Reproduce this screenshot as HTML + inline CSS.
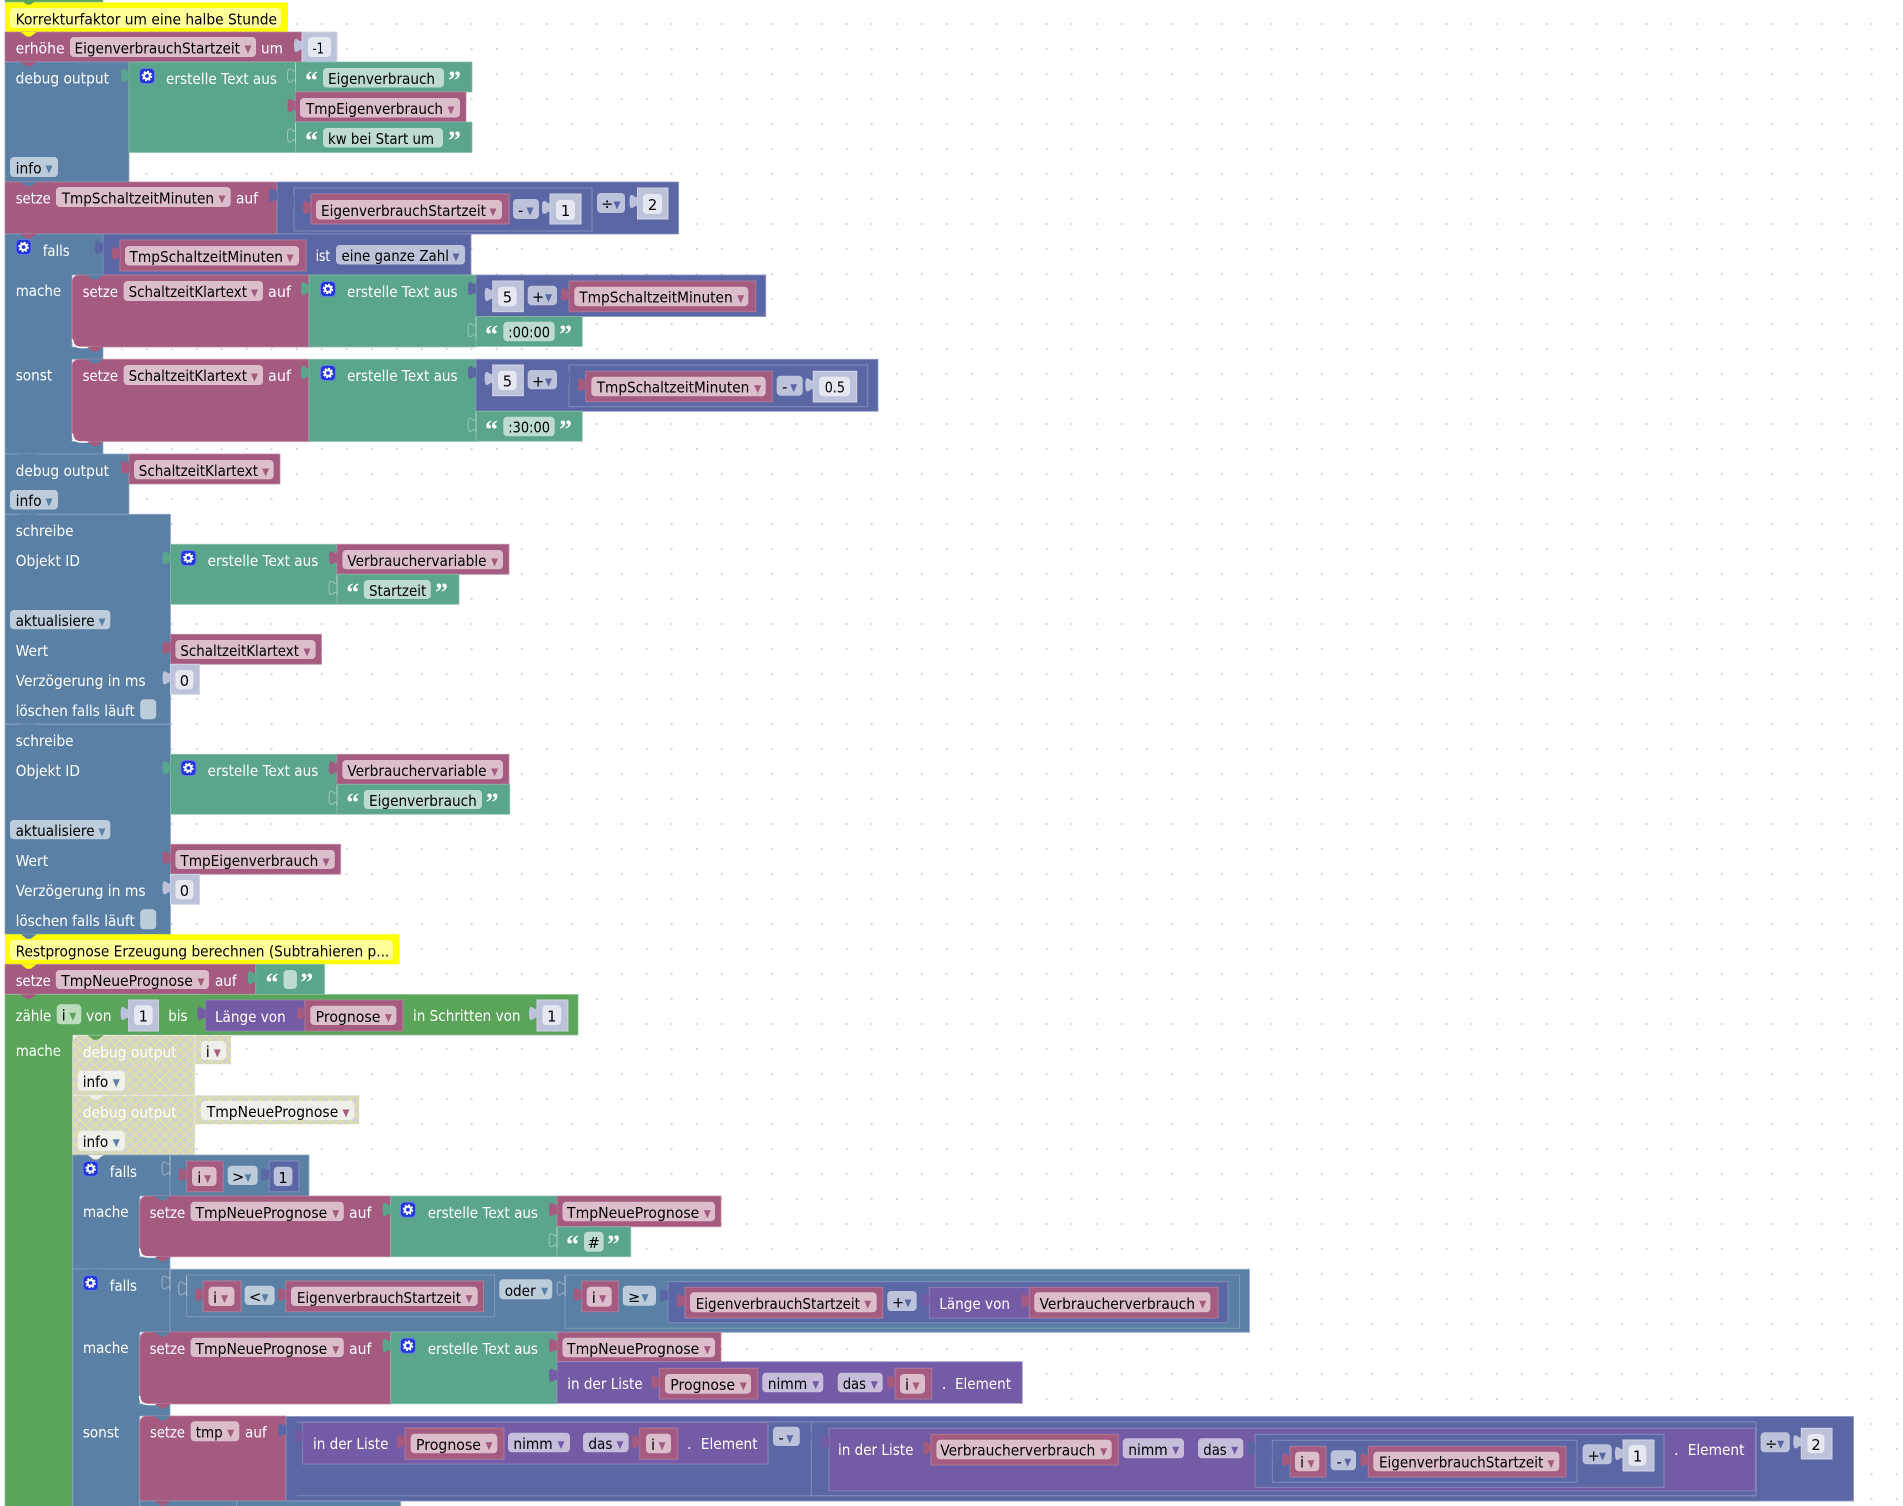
<!DOCTYPE html>
<html lang="de"><head><meta charset="utf-8"><title>Blockly</title>
<style>
html,body{margin:0;padding:0;background:#fff}
svg{display:block}
text{font-family:"DejaVu Sans","Liberation Sans",sans-serif;font-size:14.67px}
.w{fill:#fff}.k{fill:#000}.c{text-anchor:middle}
.q{font-family:"Liberation Serif",serif;font-weight:bold;font-size:26px;fill:#fff}
.r{fill:#a55b80}.b{fill:#5b80a5}.g{fill:#5ba58c}.m{fill:#5b67a5}.l{fill:#745ba5}.f{fill:#5ba55b}
rect.r,path.r{stroke:#bd84a0;stroke-opacity:.7}
rect.b,path.b{stroke:#8ca6c0;stroke-opacity:.7}
rect.g,path.g{stroke:#8cc0ae;stroke-opacity:.7}
rect.m,path.m{stroke:#8c95c0;stroke-opacity:.8}
rect.l,path.l{stroke:#9c8cc0;stroke-opacity:.7}
rect.f,path.f{stroke:#8cc08c;stroke-opacity:.7}
.R{fill:#dbbdcc}.B{fill:#bdccdb}.G{fill:#bddbd1}.M{fill:#bdc2db}.L{fill:#c7bddb}.F{fill:#bddbbd}
.N{fill:#e5e7f1}.Y{fill:#ff0}.Z{fill:#ff9}.D{fill:#f0f0ea}
rect.M2{fill:#bdc2db;stroke:#d0d4e6}
.M2{fill:#bdc2db}
.X{fill:url(#dis)}
.s{stroke:#fff;stroke-opacity:.4;stroke-width:1}
</style></head><body>
<svg xmlns="http://www.w3.org/2000/svg" width="1903" height="1506" viewBox="0 0 1903 1506">
<defs>
<pattern id="dots" patternUnits="userSpaceOnUse" width="25" height="25"><circle cx="21.7" cy="24" r="1" fill="#ccc"/></pattern>
<pattern id="dis" patternUnits="userSpaceOnUse" width="10" height="10"><rect width="10" height="10" fill="#d2d2ce"/><path d="M0 0L10 10M10 0L0 10" stroke="#e8e88c" stroke-width="1"/></pattern>
<path id="t" d="M0 0v5c0 10-8-8-8 7.5s8-2.5 8 7.5z"/>
<path id="n" d="M-8 0l6 4.5h4l6-4.5z"/>
<path id="a" d="M-3.5 8.5h7l-3.5 8z"/>
<g id="i"><rect x=".5" y=".5" width="15" height="15" rx="4" fill="#2036d9" stroke="#6a7ae4"/><circle cx="8" cy="8" r="3" fill="none" stroke="#fff" stroke-width="2.2"/><circle cx="8" cy="8" r="4.6" fill="none" stroke="#fff" stroke-width="1.4" stroke-dasharray="2 1.6"/></g>
</defs>
<rect width="1903" height="1506" fill="url(#dots)"/>

<!-- top -->
<rect class="f" x="5" y="-10" width="98" height="12"/>
<rect class="Y" x="5" y="2.5" width="283" height="29.5"/>
<rect class="Z" x="10" y="8" width="271" height="20" rx="4"/>
<text class="k" x="15.6" y="24.5" textLength="261.4" lengthAdjust="spacingAndGlyphs">Korrekturfaktor um eine halbe Stunde</text>

<rect class="r" x="5" y="32" width="297" height="30"/>
<text class="w" x="15.6" y="53.5" textLength="49" lengthAdjust="spacingAndGlyphs">erhöhe</text>
<rect class="R" x="70" y="37" width="186" height="20" rx="4"/>
<text class="k" x="74.5" y="53.5" textLength="165.5" lengthAdjust="spacingAndGlyphs">EigenverbrauchStartzeit</text>
<use href="#a" x="248" y="37" class="r"/>
<text class="w" x="261" y="53.5" textLength="22" lengthAdjust="spacingAndGlyphs">um</text>
<rect class="M2" x="302" y="32" width="35" height="30"/><use href="#t" x="302" y="33" class="M2"/>
<rect class="N" x="308" y="37" width="23" height="20" rx="4"/>
<text class="k" x="312.5" y="53.5" textLength="11.5" lengthAdjust="spacingAndGlyphs">-1</text>

<!-- debug output -->
<rect class="b" x="5" y="62" width="124" height="120"/>
<text class="w" x="15.6" y="83.5" textLength="93.4" lengthAdjust="spacingAndGlyphs">debug output</text>
<rect class="g" x="129" y="62" width="166.5" height="90.5"/><use href="#t" x="129" y="63" class="g"/>
<use href="#i" x="139" y="68"/>
<text class="w" x="166" y="84" textLength="111" lengthAdjust="spacingAndGlyphs">erstelle Text aus</text>
<rect class="g" x="295.5" y="62" width="176.5" height="30"/><use href="#t" x="295.5" y="63" class="g s"/>
<text class="q" x="305" y="89">“</text>
<rect class="G" x="323" y="68" width="121" height="19.5" rx="4"/>
<text class="k" x="328" y="84" textLength="107" lengthAdjust="spacingAndGlyphs">Eigenverbrauch</text>
<text class="q" x="448" y="89">”</text>
<rect class="r" x="295.5" y="92" width="170.5" height="30"/><use href="#t" x="295.5" y="93" class="r"/>
<rect class="R" x="300" y="98" width="160" height="19.5" rx="4"/>
<text class="k" x="306" y="114" textLength="137" lengthAdjust="spacingAndGlyphs">TmpEigenverbrauch</text>
<use href="#a" x="451" y="98" class="r"/>
<rect class="g" x="295.5" y="122" width="176.5" height="30.5"/><use href="#t" x="295.5" y="123" class="g s"/>
<text class="q" x="305" y="149">“</text>
<rect class="G" x="323" y="128" width="120" height="19.5" rx="4"/>
<text class="k" x="328" y="144" textLength="106" lengthAdjust="spacingAndGlyphs">kw bei Start um</text>
<text class="q" x="448" y="149">”</text>
<rect class="B" x="10" y="157" width="48" height="20" rx="4"/>
<text class="k" x="15.6" y="173.5" textLength="26" lengthAdjust="spacingAndGlyphs">info</text>
<use href="#a" x="49" y="157" class="b"/>

<!-- setze TmpSchaltzeitMinuten -->
<rect class="r" x="5" y="182" width="272" height="52"/>
<text class="w" x="15.7" y="203.5" textLength="35" lengthAdjust="spacingAndGlyphs">setze</text>
<rect class="R" x="56" y="187" width="174.7" height="20" rx="4"/>
<text class="k" x="61.7" y="203.5" textLength="152.3" lengthAdjust="spacingAndGlyphs">TmpSchaltzeitMinuten</text>
<use href="#a" x="222" y="187" class="r"/>
<text class="w" x="236" y="203.5" textLength="22" lengthAdjust="spacingAndGlyphs">auf</text>
<rect class="m" x="277" y="182" width="401.6" height="52"/><use href="#t" x="277" y="183" class="m"/>
<rect class="m" x="294" y="188" width="298" height="43"/><use href="#t" x="294" y="189" class="m"/>
<rect class="r" x="311" y="194" width="198" height="30"/><use href="#t" x="311" y="195" class="r"/>
<rect class="R" x="316" y="200" width="186" height="19.5" rx="4"/>
<text class="k" x="321" y="216" textLength="165" lengthAdjust="spacingAndGlyphs">EigenverbrauchStartzeit</text>
<use href="#a" x="493" y="200" class="r"/>
<rect class="M" x="513" y="199" width="26" height="20" rx="4"/>
<text class="k" x="518" y="215.5">-</text>
<use href="#a" x="530" y="199" class="m"/>
<rect class="M2" x="550" y="194" width="31" height="30"/><use href="#t" x="550" y="195" class="M2"/>
<rect class="N" x="556" y="200" width="19" height="20" rx="4"/>
<text class="k c" x="565.5" y="216">1</text>
<rect class="M" x="597" y="193" width="28" height="20" rx="4"/>
<text class="k" x="601" y="209">÷</text>
<use href="#a" x="617" y="193" class="m"/>
<rect class="M2" x="637.5" y="188" width="30.5" height="31"/><use href="#t" x="637.5" y="189" class="M2"/>
<rect class="N" x="643" y="194" width="19" height="20" rx="4"/>
<text class="k c" x="652.5" y="210">2</text>

<!-- falls 1 -->
<path class="b" d="M5 234H103V275H72V347H103V359.3H72V441.5H103V454H5Z"/>
<use href="#i" x="15.6" y="239"/>
<text class="w" x="42.7" y="256" textLength="27" lengthAdjust="spacingAndGlyphs">falls</text>
<text class="w" x="15.7" y="296" textLength="45.5" lengthAdjust="spacingAndGlyphs">mache</text>
<text class="w" x="15.7" y="380.5" textLength="36.5" lengthAdjust="spacingAndGlyphs">sonst</text>
<rect class="m" x="103" y="234" width="368" height="41"/><use href="#t" x="103" y="235" class="m"/>
<rect class="r" x="120" y="240" width="186" height="31"/><use href="#t" x="120" y="241" class="r"/>
<rect class="R" x="125" y="246" width="174" height="19.5" rx="4"/>
<text class="k" x="129.5" y="262" textLength="153.5" lengthAdjust="spacingAndGlyphs">TmpSchaltzeitMinuten</text>
<use href="#a" x="290" y="246" class="r"/>
<text class="w" x="315.6" y="261" textLength="14.5" lengthAdjust="spacingAndGlyphs">ist</text>
<rect class="M" x="336" y="245" width="129" height="19.5" rx="4"/>
<text class="k" x="341.5" y="261" textLength="107.5" lengthAdjust="spacingAndGlyphs">eine ganze Zahl</text>
<use href="#a" x="456" y="245" class="m"/>

<!-- mache -->
<path class="r" d="M80 275H309V347H80q-8 0-8-8V283q0-8 8-8z"/>
<text class="w" x="82.6" y="297" textLength="35.4" lengthAdjust="spacingAndGlyphs">setze</text>
<rect class="R" x="123.6" y="281" width="139.4" height="20" rx="4"/>
<text class="k" x="128.6" y="297" textLength="118.4" lengthAdjust="spacingAndGlyphs">SchaltzeitKlartext</text>
<use href="#a" x="254.5" y="281" class="r"/>
<text class="w" x="268" y="297" textLength="23" lengthAdjust="spacingAndGlyphs">auf</text>
<rect class="g" x="309" y="275" width="167" height="72"/><use href="#t" x="309" y="276" class="g"/>
<use href="#i" x="320" y="281"/>
<text class="w" x="347" y="297" textLength="110.6" lengthAdjust="spacingAndGlyphs">erstelle Text aus</text>
<rect class="m" x="476" y="275" width="289.7" height="41.5"/><use href="#t" x="476" y="276" class="m"/>
<rect class="M2" x="492.7" y="281" width="30.6" height="30.7"/><use href="#t" x="492.7" y="282" class="M2"/>
<rect class="N" x="498" y="286.7" width="18.7" height="19.5" rx="4"/>
<text class="k c" x="507.4" y="302.7">5</text>
<rect class="M" x="527.7" y="285.7" width="29.3" height="19.5" rx="4"/>
<text class="k" x="532" y="302">+</text>
<use href="#a" x="548.5" y="285.7" class="m"/>
<rect class="r" x="569" y="281" width="186.7" height="30.7"/><use href="#t" x="569" y="282" class="r"/>
<rect class="R" x="574.3" y="286.7" width="174" height="19.5" rx="4"/>
<text class="k" x="579.3" y="302.7" textLength="153.4" lengthAdjust="spacingAndGlyphs">TmpSchaltzeitMinuten</text>
<use href="#a" x="740.7" y="286.7" class="r"/>
<rect class="g" x="476" y="316.5" width="106.3" height="30"/><use href="#t" x="476" y="317.5" class="g s"/>
<text class="q" x="485" y="343">“</text>
<rect class="G" x="503.3" y="321.7" width="51.4" height="19.6" rx="4"/>
<text class="k" x="508.3" y="337.7" textLength="41.7" lengthAdjust="spacingAndGlyphs">:00:00</text>
<text class="q" x="559" y="343">”</text>

<!-- sonst -->
<path class="r" d="M80 359.3H309V441.5H80q-8 0-8-8V367.3q0-8 8-8z"/>
<text class="w" x="82.6" y="381" textLength="35.4" lengthAdjust="spacingAndGlyphs">setze</text>
<rect class="R" x="123.6" y="365" width="139.4" height="20" rx="4"/>
<text class="k" x="128.6" y="381" textLength="118.4" lengthAdjust="spacingAndGlyphs">SchaltzeitKlartext</text>
<use href="#a" x="254.5" y="365" class="r"/>
<text class="w" x="268" y="381" textLength="23" lengthAdjust="spacingAndGlyphs">auf</text>
<rect class="g" x="309" y="359.3" width="167" height="82.2"/><use href="#t" x="309" y="360" class="g"/>
<use href="#i" x="320" y="365"/>
<text class="w" x="347" y="381" textLength="110.6" lengthAdjust="spacingAndGlyphs">erstelle Text aus</text>
<rect class="m" x="476" y="359.3" width="402" height="52"/><use href="#t" x="476" y="360" class="m"/>
<rect class="M2" x="492.7" y="365" width="30.6" height="30.7"/><use href="#t" x="492.7" y="366" class="M2"/>
<rect class="N" x="498" y="370.7" width="18.7" height="19.3" rx="4"/>
<text class="k c" x="507.4" y="386.7">5</text>
<rect class="M" x="527.7" y="370" width="29.3" height="19.3" rx="4"/>
<text class="k" x="532" y="386.5">+</text>
<use href="#a" x="548.5" y="370" class="m"/>
<rect class="m" x="569" y="365" width="298.7" height="41.7"/><use href="#t" x="569" y="366" class="m"/>
<rect class="r" x="585.7" y="371.3" width="186.6" height="30.4"/><use href="#t" x="585.7" y="372.3" class="r"/>
<rect class="R" x="591.3" y="376.7" width="174.4" height="19.6" rx="4"/>
<text class="k" x="596.7" y="392.7" textLength="152.6" lengthAdjust="spacingAndGlyphs">TmpSchaltzeitMinuten</text>
<use href="#a" x="757.7" y="376.7" class="r"/>
<rect class="M" x="776.7" y="375.7" width="26" height="20" rx="4"/>
<text class="k" x="782" y="392">-</text>
<use href="#a" x="793.7" y="375.7" class="m"/>
<rect class="M2" x="813.3" y="371.3" width="43.4" height="30.7"/><use href="#t" x="813.3" y="372.3" class="M2"/>
<rect class="N" x="819" y="376.7" width="31" height="19.6" rx="4"/>
<text class="k" x="824.7" y="392.7" textLength="20.3" lengthAdjust="spacingAndGlyphs">0.5</text>
<rect class="g" x="476" y="411.3" width="106.3" height="30"/><use href="#t" x="476" y="412.3" class="g s"/>
<text class="q" x="485" y="438">“</text>
<rect class="G" x="503.3" y="416.7" width="51.4" height="19.6" rx="4"/>
<text class="k" x="508.3" y="432.7" textLength="41.7" lengthAdjust="spacingAndGlyphs">:30:00</text>
<text class="q" x="559" y="438">”</text>

<!-- debug output 2 -->
<rect class="b" x="5" y="454" width="124" height="60.3"/>
<text class="w" x="15.6" y="476" textLength="93.4" lengthAdjust="spacingAndGlyphs">debug output</text>
<rect class="r" x="129" y="454" width="151" height="30"/><use href="#t" x="129" y="455" class="r"/>
<rect class="R" x="134" y="460" width="139.7" height="19.3" rx="4"/>
<text class="k" x="138.8" y="476" textLength="119.2" lengthAdjust="spacingAndGlyphs">SchaltzeitKlartext</text>
<use href="#a" x="265.6" y="460" class="r"/>
<rect class="B" x="10" y="490" width="48" height="19.5" rx="4"/>
<text class="k" x="15.6" y="506" textLength="26" lengthAdjust="spacingAndGlyphs">info</text>
<use href="#a" x="49" y="490" class="b"/>

<!-- schreibe 1 -->
<rect class="b" x="5" y="514.3" width="165.5" height="209.7"/>
<text class="w" x="15.6" y="536" textLength="58" lengthAdjust="spacingAndGlyphs">schreibe</text>
<text class="w" x="15.6" y="566" textLength="64.4" lengthAdjust="spacingAndGlyphs">Objekt ID</text>
<rect class="g" x="170.5" y="544.3" width="166.5" height="60"/><use href="#t" x="170.5" y="545.3" class="g"/>
<use href="#i" x="180.4" y="550"/>
<text class="w" x="207.6" y="566" textLength="110.7" lengthAdjust="spacingAndGlyphs">erstelle Text aus</text>
<rect class="r" x="337" y="544.3" width="172" height="30"/><use href="#t" x="337" y="545.3" class="r"/>
<rect class="R" x="342.4" y="550" width="160.6" height="19.3" rx="4"/>
<text class="k" x="347.3" y="566" textLength="139.3" lengthAdjust="spacingAndGlyphs">Verbrauchervariable</text>
<use href="#a" x="494.6" y="550" class="r"/>
<rect class="g" x="337" y="574.3" width="122" height="30"/><use href="#t" x="337" y="575.3" class="g s"/>
<text class="q" x="346.3" y="601">“</text>
<rect class="G" x="363.8" y="580" width="67" height="19" rx="4"/>
<text class="k" x="369" y="596" textLength="57.3" lengthAdjust="spacingAndGlyphs">Startzeit</text>
<text class="q" x="435" y="601">”</text>
<rect class="B" x="10" y="610" width="100.3" height="19.3" rx="4"/>
<text class="k" x="15.6" y="626" textLength="79" lengthAdjust="spacingAndGlyphs">aktualisiere</text>
<use href="#a" x="102" y="610" class="b"/>
<text class="w" x="15.6" y="656" textLength="32.6" lengthAdjust="spacingAndGlyphs">Wert</text>
<rect class="r" x="170.5" y="634.3" width="151" height="30"/><use href="#t" x="170.5" y="635.3" class="r"/>
<rect class="R" x="175.4" y="640" width="140.2" height="19" rx="4"/>
<text class="k" x="180.4" y="656" textLength="118.6" lengthAdjust="spacingAndGlyphs">SchaltzeitKlartext</text>
<use href="#a" x="307" y="640" class="r"/>
<text class="w" x="15.6" y="686" textLength="130" lengthAdjust="spacingAndGlyphs">Verzögerung in ms</text>
<rect class="M2" x="170.5" y="664.3" width="29" height="30"/><use href="#t" x="170.5" y="665.3" class="M2"/>
<rect class="N" x="175.4" y="670" width="18" height="19.3" rx="4"/>
<text class="k c" x="184.4" y="686">0</text>
<text class="w" x="15.6" y="716" textLength="119.2" lengthAdjust="spacingAndGlyphs">löschen falls läuft</text>
<rect class="B" x="140.2" y="699.3" width="16" height="20" rx="4"/>

<!-- schreibe 2 -->
<rect class="b" x="5" y="724.3" width="165.5" height="210"/>
<text class="w" x="15.6" y="746" textLength="58" lengthAdjust="spacingAndGlyphs">schreibe</text>
<text class="w" x="15.6" y="776" textLength="64.4" lengthAdjust="spacingAndGlyphs">Objekt ID</text>
<rect class="g" x="170.5" y="754.3" width="166.5" height="60"/><use href="#t" x="170.5" y="755.3" class="g"/>
<use href="#i" x="180.4" y="760"/>
<text class="w" x="207.6" y="776" textLength="110.7" lengthAdjust="spacingAndGlyphs">erstelle Text aus</text>
<rect class="r" x="337" y="754.3" width="172" height="30"/><use href="#t" x="337" y="755.3" class="r"/>
<rect class="R" x="342.4" y="760" width="160.6" height="19.3" rx="4"/>
<text class="k" x="347.3" y="776" textLength="139.3" lengthAdjust="spacingAndGlyphs">Verbrauchervariable</text>
<use href="#a" x="494.6" y="760" class="r"/>
<rect class="g" x="337" y="784.3" width="172.8" height="30"/><use href="#t" x="337" y="785.3" class="g s"/>
<text class="q" x="346.3" y="811">“</text>
<rect class="G" x="363.8" y="790" width="118.2" height="19" rx="4"/>
<text class="k" x="369" y="806" textLength="107.8" lengthAdjust="spacingAndGlyphs">Eigenverbrauch</text>
<text class="q" x="485.6" y="811">”</text>
<rect class="B" x="10" y="820" width="100.3" height="19.3" rx="4"/>
<text class="k" x="15.6" y="836" textLength="79" lengthAdjust="spacingAndGlyphs">aktualisiere</text>
<use href="#a" x="102" y="820" class="b"/>
<text class="w" x="15.6" y="866" textLength="32.6" lengthAdjust="spacingAndGlyphs">Wert</text>
<rect class="r" x="170.5" y="844.3" width="170.1" height="30"/><use href="#t" x="170.5" y="845.3" class="r"/>
<rect class="R" x="175.4" y="850" width="159.4" height="19" rx="4"/>
<text class="k" x="180.4" y="866" textLength="137.9" lengthAdjust="spacingAndGlyphs">TmpEigenverbrauch</text>
<use href="#a" x="326" y="850" class="r"/>
<text class="w" x="15.6" y="896" textLength="130" lengthAdjust="spacingAndGlyphs">Verzögerung in ms</text>
<rect class="M2" x="170.5" y="874.3" width="29" height="30"/><use href="#t" x="170.5" y="875.3" class="M2"/>
<rect class="N" x="175.4" y="880" width="18" height="19.3" rx="4"/>
<text class="k c" x="184.4" y="896">0</text>
<text class="w" x="15.6" y="926" textLength="119.2" lengthAdjust="spacingAndGlyphs">löschen falls läuft</text>
<rect class="B" x="140.2" y="909.3" width="16" height="20" rx="4"/>

<!-- comment 2 -->
<rect class="Y" x="5" y="934.3" width="394.6" height="30"/>
<rect class="Z" x="10" y="940" width="382.9" height="20" rx="4"/>
<text class="k" x="15.6" y="956.3" textLength="373.7" lengthAdjust="spacingAndGlyphs">Restprognose Erzeugung berechnen (Subtrahieren p...</text>

<!-- setze TmpNeuePrognose -->
<rect class="r" x="5" y="964.3" width="250.8" height="30"/>
<text class="w" x="15.7" y="986" textLength="35" lengthAdjust="spacingAndGlyphs">setze</text>
<rect class="R" x="55.8" y="970" width="153.2" height="19" rx="4"/>
<text class="k" x="61.2" y="986" textLength="131.7" lengthAdjust="spacingAndGlyphs">TmpNeuePrognose</text>
<use href="#a" x="201" y="970" class="r"/>
<text class="w" x="215" y="986" textLength="21.6" lengthAdjust="spacingAndGlyphs">auf</text>
<rect class="g" x="255.8" y="964.3" width="68.8" height="30"/><use href="#t" x="255.8" y="965.3" class="g"/>
<text class="q" x="265.5" y="991">“</text>
<rect class="G" x="283.5" y="970" width="13.4" height="19" rx="4"/>
<text class="q" x="300.3" y="991">”</text>

<!-- zähle -->
<path class="f" d="M5 994.5H578V1035H72.7V1516H5Z"/>
<text class="w" x="15.6" y="1021" textLength="35.7" lengthAdjust="spacingAndGlyphs">zähle</text>
<rect class="F" x="56.7" y="1004.3" width="24.6" height="20" rx="4"/>
<text class="k" x="61.6" y="1020.5">i</text>
<use href="#a" x="72.8" y="1004.3" class="f"/>
<text class="w" x="86" y="1021" textLength="25.6" lengthAdjust="spacingAndGlyphs">von</text>
<rect class="M2" x="128.6" y="1000" width="29.9" height="31"/><use href="#t" x="128.6" y="1001" class="M2"/>
<rect class="N" x="134" y="1005.3" width="18.7" height="19.7" rx="4"/>
<text class="k c" x="143.3" y="1021.5">1</text>
<text class="w" x="168.3" y="1021" textLength="19.2" lengthAdjust="spacingAndGlyphs">bis</text>
<rect class="l" x="205.4" y="1000" width="99.6" height="31"/><use href="#t" x="205.4" y="1001" class="l"/>
<text class="w" x="215" y="1022" textLength="70.7" lengthAdjust="spacingAndGlyphs">Länge von</text>
<rect class="r" x="305" y="1000" width="98" height="31"/><use href="#t" x="305" y="1001" class="r"/>
<rect class="R" x="310.3" y="1005.7" width="86.1" height="19.3" rx="4"/>
<text class="k" x="315.6" y="1022" textLength="64.8" lengthAdjust="spacingAndGlyphs">Prognose</text>
<use href="#a" x="388.4" y="1005.7" class="r"/>
<text class="w" x="413" y="1021" textLength="107.5" lengthAdjust="spacingAndGlyphs">in Schritten von</text>
<rect class="M2" x="537" y="1000" width="30.9" height="31"/><use href="#t" x="537" y="1001" class="M2"/>
<rect class="N" x="542.4" y="1005.3" width="18.8" height="19.7" rx="4"/>
<text class="k c" x="551.8" y="1021.5">1</text>
<text class="w" x="15.7" y="1056" textLength="45.3" lengthAdjust="spacingAndGlyphs">mache</text>

<!-- disabled -->
<path class="X" d="M80 1035.3H195V1095.3H72.7V1043.3q0-8 7.3-8z" stroke="#eee" stroke-width=".7"/>
<rect class="X" x="195" y="1035.3" width="36" height="29" stroke="#eee" stroke-width=".5"/>
<text class="w" x="82.7" y="1057.3" textLength="94" lengthAdjust="spacingAndGlyphs">debug output</text>
<rect class="D" x="201" y="1041" width="25" height="19" rx="4"/>
<text class="k" x="205.7" y="1057">i</text>
<use href="#a" x="217.3" y="1041" class="r"/>
<rect class="D" x="77.7" y="1070.7" width="47.3" height="20" rx="4"/>
<text class="k" x="82.7" y="1087" textLength="25.6" lengthAdjust="spacingAndGlyphs">info</text>
<use href="#a" x="116.3" y="1070.7" class="b"/>
<rect class="X" x="72.7" y="1095.3" width="122.3" height="59.7" stroke="#eee" stroke-width=".7"/>
<rect class="X" x="195" y="1095.3" width="164.3" height="29" stroke="#eee" stroke-width=".5"/>
<text class="w" x="82.7" y="1117.3" textLength="94" lengthAdjust="spacingAndGlyphs">debug output</text>
<rect class="D" x="201" y="1101" width="153.3" height="19" rx="4"/>
<text class="k" x="206.7" y="1117" textLength="131.6" lengthAdjust="spacingAndGlyphs">TmpNeuePrognose</text>
<use href="#a" x="346" y="1101" class="r"/>
<rect class="D" x="77.7" y="1130.7" width="47.3" height="20" rx="4"/>
<text class="k" x="82.7" y="1147" textLength="25.6" lengthAdjust="spacingAndGlyphs">info</text>
<use href="#a" x="116.3" y="1130.7" class="b"/>

<!-- falls i>1 -->
<path class="b" d="M72.7 1155H170V1196H139.7V1256.7H170V1269H72.7Z"/>
<use href="#i" x="82.6" y="1160.7"/>
<text class="w" x="109.8" y="1177" textLength="27.2" lengthAdjust="spacingAndGlyphs">falls</text>
<text class="w" x="83" y="1217" textLength="45.6" lengthAdjust="spacingAndGlyphs">mache</text>
<rect class="b" x="170" y="1155" width="139" height="41"/><use href="#t" x="170" y="1156" class="b s"/>
<rect class="r" x="186.6" y="1161" width="36.6" height="30.7"/><use href="#t" x="186.6" y="1162" class="r"/>
<rect class="R" x="192" y="1166.7" width="24.5" height="19.3" rx="4"/>
<text class="k" x="197.3" y="1183">i</text>
<use href="#a" x="207.6" y="1166.7" class="r"/>
<rect class="B" x="227.7" y="1165.7" width="29.9" height="19.3" rx="4"/>
<text class="k" x="232" y="1182">&gt;</text>
<use href="#a" x="248" y="1165.7" class="b"/>
<rect class="m" x="269.2" y="1161" width="29.8" height="30.7"/><use href="#t" x="269.2" y="1162" class="m"/>
<rect class="M" x="273.7" y="1166.7" width="18.7" height="19.3" rx="4"/>
<text class="k c" x="283" y="1183">1</text>

<path class="r" d="M147.7 1196H390.6V1256.7H147.7q-8 0-8-8V1204q0-8 8-8z"/>
<text class="w" x="149.6" y="1218" textLength="35.7" lengthAdjust="spacingAndGlyphs">setze</text>
<rect class="R" x="190.6" y="1201.7" width="153.2" height="19.3" rx="4"/>
<text class="k" x="195.5" y="1218" textLength="131.7" lengthAdjust="spacingAndGlyphs">TmpNeuePrognose</text>
<use href="#a" x="335.7" y="1201.7" class="r"/>
<text class="w" x="349" y="1218" textLength="22.4" lengthAdjust="spacingAndGlyphs">auf</text>
<rect class="g" x="390.6" y="1196" width="166.4" height="60.7"/><use href="#t" x="390.6" y="1197" class="g"/>
<use href="#i" x="400" y="1201.7"/>
<text class="w" x="427.7" y="1218" textLength="110.3" lengthAdjust="spacingAndGlyphs">erstelle Text aus</text>
<rect class="r" x="557" y="1196" width="164" height="30.7"/><use href="#t" x="557" y="1197" class="r"/>
<rect class="R" x="562.5" y="1201.7" width="152.5" height="19.5" rx="4"/>
<text class="k" x="567" y="1218" textLength="132.3" lengthAdjust="spacingAndGlyphs">TmpNeuePrognose</text>
<use href="#a" x="707.3" y="1201.7" class="r"/>
<rect class="g" x="557" y="1226.7" width="73.8" height="30"/><use href="#t" x="557" y="1227.7" class="g s"/>
<text class="q" x="566" y="1253">“</text>
<rect class="G" x="584" y="1231.7" width="19.6" height="20" rx="4"/>
<text class="k c" x="593.8" y="1248">#</text>
<text class="q" x="607" y="1253">”</text>

<!-- falls 2 -->
<path class="b" d="M72.7 1269H170V1332H139.7V1404H170V1416H139.7V1516H72.7Z"/>
<use href="#i" x="82.6" y="1275"/>
<text class="w" x="109.8" y="1291" textLength="27.2" lengthAdjust="spacingAndGlyphs">falls</text>
<text class="w" x="83" y="1353" textLength="45.6" lengthAdjust="spacingAndGlyphs">mache</text>
<text class="w" x="82.7" y="1437.3" textLength="36.6" lengthAdjust="spacingAndGlyphs">sonst</text>
<rect class="b" x="170" y="1269.3" width="1079.5" height="63"/><use href="#t" x="170" y="1270" class="b s"/>
<rect class="b" x="186.6" y="1275" width="308" height="41.7"/><use href="#t" x="186.6" y="1276" class="b s"/>
<rect class="r" x="203" y="1281" width="38" height="30.7"/><use href="#t" x="203" y="1282" class="r"/>
<rect class="R" x="208.5" y="1286.7" width="25.9" height="19.3" rx="4"/>
<text class="k" x="213" y="1303">i</text>
<use href="#a" x="224.5" y="1286.7" class="r"/>
<rect class="B" x="244.6" y="1285.7" width="30" height="19.3" rx="4"/>
<text class="k" x="249" y="1302">&lt;</text>
<use href="#a" x="265" y="1285.7" class="b"/>
<rect class="r" x="285.7" y="1281" width="197.8" height="30.7"/><use href="#t" x="285.7" y="1282" class="r"/>
<rect class="R" x="291" y="1286.7" width="186.7" height="19.3" rx="4"/>
<text class="k" x="296.9" y="1303" textLength="164.1" lengthAdjust="spacingAndGlyphs">EigenverbrauchStartzeit</text>
<use href="#a" x="469" y="1286.7" class="r"/>
<rect class="B" x="499.3" y="1279.3" width="53" height="20" rx="4"/>
<text class="k" x="504.7" y="1296" textLength="31" lengthAdjust="spacingAndGlyphs">oder</text>
<use href="#a" x="544.7" y="1279.3" class="b"/>
<rect class="b" x="565" y="1275" width="674.5" height="53.3"/><use href="#t" x="565" y="1276" class="b s"/>
<rect class="r" x="581.7" y="1281" width="36.6" height="30.7"/><use href="#t" x="581.7" y="1282" class="r"/>
<rect class="R" x="586.7" y="1286.7" width="25" height="20" rx="4"/>
<text class="k" x="591.7" y="1303">i</text>
<use href="#a" x="602.7" y="1286.7" class="r"/>
<rect class="B" x="622.7" y="1285.7" width="33.3" height="20" rx="4"/>
<text class="k" x="628" y="1302">≥</text>
<use href="#a" x="645" y="1285.7" class="b"/>
<rect class="m" x="668" y="1281.7" width="560" height="41"/><use href="#t" x="668" y="1282.7" class="m"/>
<rect class="r" x="685" y="1287.3" width="197.7" height="30.7"/><use href="#t" x="685" y="1288.3" class="r"/>
<rect class="R" x="690" y="1292.3" width="186.7" height="20" rx="4"/>
<text class="k" x="695.7" y="1309" textLength="164.3" lengthAdjust="spacingAndGlyphs">EigenverbrauchStartzeit</text>
<use href="#a" x="867.7" y="1292.3" class="r"/>
<rect class="M" x="887.3" y="1291" width="29.4" height="20" rx="4"/>
<text class="k" x="892" y="1307.5">+</text>
<use href="#a" x="908" y="1291" class="m"/>
<rect class="l" x="929.3" y="1287.3" width="100" height="30.7"/><use href="#t" x="929.3" y="1288.3" class="l"/>
<text class="w" x="939.3" y="1309" textLength="70.7" lengthAdjust="spacingAndGlyphs">Länge von</text>
<rect class="r" x="1029.3" y="1287.3" width="188.7" height="30.7"/><use href="#t" x="1029.3" y="1288.3" class="r"/>
<rect class="R" x="1034.3" y="1292.3" width="176.1" height="20" rx="4"/>
<text class="k" x="1039.5" y="1309" textLength="155.5" lengthAdjust="spacingAndGlyphs">Verbraucherverbrauch</text>
<use href="#a" x="1202.7" y="1292.3" class="r"/>

<!-- mache 2 -->
<path class="r" d="M147.7 1332H390.6V1404H147.7q-8 0-8-8V1340q0-8 8-8z"/>
<text class="w" x="149.6" y="1354" textLength="35.7" lengthAdjust="spacingAndGlyphs">setze</text>
<rect class="R" x="190.6" y="1337.7" width="153.2" height="19.3" rx="4"/>
<text class="k" x="195.5" y="1354" textLength="131.7" lengthAdjust="spacingAndGlyphs">TmpNeuePrognose</text>
<use href="#a" x="335.7" y="1337.7" class="r"/>
<text class="w" x="349" y="1354" textLength="22.4" lengthAdjust="spacingAndGlyphs">auf</text>
<rect class="g" x="390.6" y="1332" width="166.4" height="71.7"/><use href="#t" x="390.6" y="1333" class="g"/>
<use href="#i" x="400" y="1337.7"/>
<text class="w" x="427.7" y="1354" textLength="110.3" lengthAdjust="spacingAndGlyphs">erstelle Text aus</text>
<rect class="r" x="557" y="1332.3" width="164" height="29.4"/><use href="#t" x="557" y="1333" class="r"/>
<rect class="R" x="562.5" y="1337.7" width="152.5" height="19.6" rx="4"/>
<text class="k" x="567" y="1354" textLength="132.3" lengthAdjust="spacingAndGlyphs">TmpNeuePrognose</text>
<use href="#a" x="707.3" y="1337.7" class="r"/>
<rect class="l" x="557" y="1361.7" width="465.3" height="41.6"/><use href="#t" x="557" y="1362.7" class="l"/>
<text class="w" x="567.3" y="1389" textLength="75.4" lengthAdjust="spacingAndGlyphs">in der Liste</text>
<rect class="r" x="659.3" y="1368.3" width="98.4" height="30.7"/><use href="#t" x="659.3" y="1369.3" class="r"/>
<rect class="R" x="665" y="1374" width="86" height="19.7" rx="4"/>
<text class="k" x="670.3" y="1390" textLength="64.7" lengthAdjust="spacingAndGlyphs">Prognose</text>
<use href="#a" x="743.3" y="1374" class="r"/>
<rect class="L" x="762.3" y="1372.7" width="61" height="19.6" rx="4"/>
<text class="k" x="767.7" y="1389" textLength="39.6" lengthAdjust="spacingAndGlyphs">nimm</text>
<use href="#a" x="815.7" y="1372.7" class="l"/>
<rect class="L" x="837.7" y="1372.7" width="45" height="19.6" rx="4"/>
<text class="k" x="842.7" y="1389" textLength="23.3" lengthAdjust="spacingAndGlyphs">das</text>
<use href="#a" x="874.3" y="1372.7" class="l"/>
<rect class="r" x="895" y="1368.3" width="36.7" height="30.7"/><use href="#t" x="895" y="1369.3" class="r"/>
<rect class="R" x="900" y="1374" width="25" height="19.7" rx="4"/>
<text class="k" x="905" y="1390">i</text>
<use href="#a" x="916" y="1374" class="r"/>
<text class="w" x="941.7" y="1389">.</text>
<text class="w" x="955" y="1389" textLength="56" lengthAdjust="spacingAndGlyphs">Element</text>

<!-- sonst 2 -->
<path class="r" d="M147.7 1416H286V1501H139.7V1424q0-8 8-8z"/>
<text class="w" x="150" y="1437.7" textLength="35" lengthAdjust="spacingAndGlyphs">setze</text>
<rect class="R" x="190.7" y="1421.3" width="48.6" height="20" rx="4"/>
<text class="k" x="195.7" y="1437.7" textLength="27" lengthAdjust="spacingAndGlyphs">tmp</text>
<use href="#a" x="230.7" y="1421.3" class="r"/>
<text class="w" x="245" y="1437.7" textLength="21.7" lengthAdjust="spacingAndGlyphs">auf</text>
<rect class="m" x="286" y="1416.5" width="1567.5" height="84.5"/><use href="#t" x="286" y="1417.5" class="m"/>
<path class="m" d="M297 1422H1756V1495.7H297"/>
<rect class="l" x="302.7" y="1422.3" width="465.3" height="41.7"/><use href="#t" x="302.7" y="1423.3" class="l"/>
<text class="w" x="313" y="1449" textLength="75.4" lengthAdjust="spacingAndGlyphs">in der Liste</text>
<rect class="r" x="405" y="1428" width="99" height="31.3"/><use href="#t" x="405" y="1429" class="r"/>
<rect class="R" x="410.7" y="1433.7" width="86.6" height="19.6" rx="4"/>
<text class="k" x="416" y="1450" textLength="65" lengthAdjust="spacingAndGlyphs">Prognose</text>
<use href="#a" x="489" y="1433.7" class="r"/>
<rect class="L" x="508" y="1432.7" width="62" height="19.6" rx="4"/>
<text class="k" x="513.4" y="1449" textLength="39.3" lengthAdjust="spacingAndGlyphs">nimm</text>
<use href="#a" x="561" y="1432.7" class="l"/>
<rect class="L" x="583" y="1432.7" width="45.6" height="19.6" rx="4"/>
<text class="k" x="588.4" y="1449" textLength="24.1" lengthAdjust="spacingAndGlyphs">das</text>
<use href="#a" x="620" y="1432.7" class="l"/>
<rect class="r" x="639.7" y="1428" width="38" height="31.3"/><use href="#t" x="639.7" y="1429" class="r"/>
<rect class="R" x="646" y="1433.7" width="25" height="19.6" rx="4"/>
<text class="k" x="651" y="1450">i</text>
<use href="#a" x="662" y="1433.7" class="r"/>
<text class="w" x="687" y="1449">.</text>
<text class="w" x="700.8" y="1449" textLength="56.8" lengthAdjust="spacingAndGlyphs">Element</text>
<rect class="M" x="773" y="1426.7" width="26.8" height="19.3" rx="4"/>
<text class="k" x="778.5" y="1443">-</text>
<use href="#a" x="789.8" y="1426.7" class="m"/>
<rect class="m" x="811.3" y="1422" width="944.7" height="73.7"/><use href="#t" x="811.3" y="1423" class="m"/>
<rect class="l" x="829" y="1428.3" width="926.5" height="62.4"/><use href="#t" x="829" y="1429.3" class="l"/>
<text class="w" x="838" y="1455" textLength="75.4" lengthAdjust="spacingAndGlyphs">in der Liste</text>
<rect class="r" x="931" y="1434.3" width="187.3" height="30.7"/><use href="#t" x="931" y="1435.3" class="r"/>
<rect class="R" x="936.4" y="1439.7" width="175.3" height="19.6" rx="4"/>
<text class="k" x="940.2" y="1455.7" textLength="155.1" lengthAdjust="spacingAndGlyphs">Verbraucherverbrauch</text>
<use href="#a" x="1103.7" y="1439.7" class="r"/>
<rect class="L" x="1122.7" y="1438.3" width="61.3" height="20" rx="4"/>
<text class="k" x="1128.3" y="1455" textLength="39.4" lengthAdjust="spacingAndGlyphs">nimm</text>
<use href="#a" x="1175.7" y="1438.3" class="l"/>
<rect class="L" x="1198" y="1438.3" width="45.3" height="20" rx="4"/>
<text class="k" x="1203.3" y="1455" textLength="23.4" lengthAdjust="spacingAndGlyphs">das</text>
<use href="#a" x="1234.7" y="1438.3" class="l"/>
<rect class="m" x="1255" y="1434.3" width="409" height="53"/><use href="#t" x="1255" y="1435.3" class="m"/>
<rect class="m" x="1272.3" y="1440.3" width="304.7" height="42"/><use href="#t" x="1272.3" y="1441.3" class="m"/>
<rect class="r" x="1290" y="1446.3" width="36" height="30.7"/><use href="#t" x="1290" y="1447.3" class="r"/>
<rect class="R" x="1295" y="1451.7" width="24.3" height="19.6" rx="4"/>
<text class="k" x="1300" y="1467.7">i</text>
<use href="#a" x="1311" y="1451.7" class="r"/>
<rect class="M" x="1330.7" y="1450.3" width="25.3" height="20" rx="4"/>
<text class="k" x="1336.5" y="1467">-</text>
<use href="#a" x="1347.7" y="1450.3" class="m"/>
<rect class="r" x="1368.3" y="1446.3" width="197.7" height="30.7"/><use href="#t" x="1368.3" y="1447.3" class="r"/>
<rect class="R" x="1373.3" y="1451.7" width="186" height="19.6" rx="4"/>
<text class="k" x="1379" y="1467.7" textLength="164.3" lengthAdjust="spacingAndGlyphs">EigenverbrauchStartzeit</text>
<use href="#a" x="1551" y="1451.7" class="r"/>
<rect class="M" x="1582.6" y="1444.3" width="29.1" height="20" rx="4"/>
<text class="k" x="1587.5" y="1461">+</text>
<use href="#a" x="1602.5" y="1444.3" class="m"/>
<rect class="M2" x="1623" y="1440" width="31" height="31"/><use href="#t" x="1623" y="1441" class="M2"/>
<rect class="N" x="1628.6" y="1445" width="17.7" height="20.7" rx="4"/>
<text class="k c" x="1637.5" y="1461.5">1</text>
<text class="w" x="1674" y="1455">.</text>
<text class="w" x="1687.7" y="1455" textLength="56.8" lengthAdjust="spacingAndGlyphs">Element</text>
<rect class="M" x="1760.6" y="1432.3" width="29.2" height="20" rx="4"/>
<text class="k" x="1765" y="1449">÷</text>
<use href="#a" x="1780.6" y="1432.3" class="m"/>
<rect class="M2" x="1801.3" y="1428.3" width="30.7" height="30.7"/><use href="#t" x="1801.3" y="1429.3" class="M2"/>
<rect class="N" x="1807.4" y="1434" width="17" height="19.3" rx="4"/>
<text class="k c" x="1816" y="1450">2</text>

<!-- next row at bottom -->
<rect class="b" x="140" y="1501" width="96.7" height="12"/>
<rect class="b" x="236.7" y="1501" width="164" height="12"/>

<!-- inner corners -->
<path d="M72.5 339q0 8 8 8.5h10M72.5 433.5q0 8 8 8.5h10M139.7 1248.5q0 8 8 8.5h10M139.7 1396q0 8 8 8.5h10" fill="none" stroke="#fff" stroke-width="1.5"/>

<!-- notches and bumps -->
<use href="#n" x="28.7" y="0" class="f"/>
<use href="#n" x="28.7" y="32" class="Y"/>
<use href="#n" x="28.7" y="62" class="r"/>
<use href="#n" x="28.7" y="182" class="b"/>
<use href="#n" x="28.7" y="234" class="r"/>
<use href="#n" x="95" y="275" class="b"/>
<use href="#n" x="95" y="347" class="r"/>
<use href="#n" x="95" y="359.3" class="b"/>
<use href="#n" x="95" y="441.5" class="r"/>
<use href="#n" x="28.7" y="454" class="b"/>
<use href="#n" x="28.7" y="514.3" class="b"/>
<use href="#n" x="28.7" y="724.3" class="b"/>
<use href="#n" x="28.7" y="934.3" class="b"/>
<use href="#n" x="28.7" y="964.3" class="Y"/>
<use href="#n" x="28.7" y="994.4" class="r"/>
<use href="#n" x="95.7" y="1035.3" class="f"/>
<use href="#n" x="95.7" y="1095.3" class="D"/>
<use href="#n" x="95.7" y="1155" class="D"/>
<use href="#n" x="162.7" y="1196" class="b"/>
<use href="#n" x="162.7" y="1256.7" class="r"/>
<use href="#n" x="95.7" y="1269" class="b"/>
<use href="#n" x="162.7" y="1332" class="b"/>
<use href="#n" x="162.7" y="1404" class="r"/>
<use href="#n" x="162.7" y="1416" class="b"/>
<use href="#n" x="162.7" y="1501" class="r"/>
</svg>
</body></html>
